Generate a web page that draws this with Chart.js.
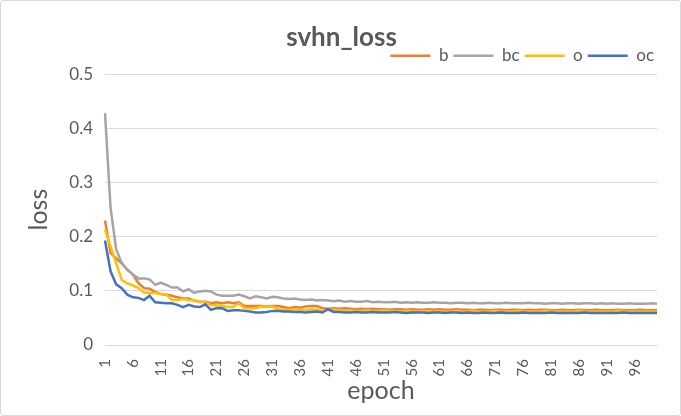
<!DOCTYPE html>
<html>
<head>
<meta charset="utf-8">
<script src="https://cdn.jsdelivr.net/npm/chart.js@4"></script>
<style>
  html, body { margin: 0; padding: 0; background: #fff; }
  #wrap { position: absolute; left: 0; top: 0; width: 679px; height: 414px; border: 1px solid #d9d9d9; border-radius: 3px; }
  canvas { position: absolute; left: -1px; top: -1px; }
</style>
</head>
<body>
<div id="wrap"><canvas id="c" width="681" height="416"></canvas></div>
<script>
const epochs = Array.from({length: 100}, (_, i) => String(i + 1));
const tickEvery = 5;

const seriesNames = ['b', 'bc', 'o', 'oc'];
const seriesColors = ['#ED7D31', '#A5A5A5', '#FFC000', '#4472C4'];

const b = [
  0.230, 0.170, 0.160, 0.151, 0.139, 0.130, 0.114, 0.105, 0.104, 0.098,
  0.094, 0.093, 0.091, 0.088, 0.086, 0.086, 0.082, 0.080, 0.080, 0.077,
  0.079, 0.077, 0.079, 0.077, 0.079, 0.072, 0.072, 0.072, 0.072, 0.071,
  0.072, 0.072, 0.070, 0.068, 0.070, 0.069, 0.071, 0.072, 0.072, 0.068,
  0.067, 0.068, 0.067, 0.068, 0.067, 0.066, 0.067, 0.066, 0.067, 0.066,
  0.066, 0.065, 0.066, 0.066, 0.065, 0.066, 0.065, 0.065, 0.066, 0.065,
  0.066, 0.065, 0.065, 0.066, 0.065, 0.065, 0.064, 0.065, 0.065, 0.064,
  0.065, 0.065, 0.064, 0.065, 0.065, 0.064, 0.065, 0.064, 0.065, 0.065,
  0.064, 0.064, 0.065, 0.064, 0.064, 0.065, 0.064, 0.064, 0.065, 0.064,
  0.064, 0.064, 0.065, 0.064, 0.064, 0.064, 0.065, 0.064, 0.064, 0.064
];
const bc = [
  0.428, 0.253, 0.177, 0.151, 0.139, 0.130, 0.123, 0.123, 0.121, 0.111,
  0.115, 0.111, 0.106, 0.106, 0.099, 0.103, 0.096, 0.099, 0.100, 0.099,
  0.093, 0.091, 0.091, 0.091, 0.093, 0.090, 0.086, 0.090, 0.088, 0.086,
  0.089, 0.088, 0.086, 0.085, 0.086, 0.084, 0.083, 0.084, 0.082, 0.083,
  0.082, 0.081, 0.082, 0.080, 0.081, 0.080, 0.080, 0.081, 0.079, 0.080,
  0.079, 0.079, 0.080, 0.078, 0.079, 0.078, 0.079, 0.078, 0.078, 0.079,
  0.078, 0.078, 0.077, 0.078, 0.078, 0.077, 0.078, 0.077, 0.077, 0.078,
  0.077, 0.077, 0.078, 0.077, 0.077, 0.077, 0.078, 0.077, 0.077, 0.076,
  0.077, 0.077, 0.076, 0.077, 0.077, 0.076, 0.077, 0.077, 0.076, 0.077,
  0.076, 0.077, 0.076, 0.076, 0.077, 0.076, 0.076, 0.076, 0.077, 0.076
];
const o = [
  0.213, 0.182, 0.151, 0.120, 0.114, 0.110, 0.105, 0.097, 0.096, 0.096,
  0.094, 0.093, 0.083, 0.083, 0.085, 0.083, 0.082, 0.079, 0.079, 0.074,
  0.073, 0.072, 0.070, 0.070, 0.077, 0.068, 0.068, 0.068, 0.071, 0.070,
  0.071, 0.066, 0.065, 0.065, 0.066, 0.065, 0.064, 0.066, 0.065, 0.063,
  0.065, 0.065, 0.064, 0.063, 0.064, 0.063, 0.063, 0.064, 0.063, 0.063,
  0.064, 0.063, 0.063, 0.062, 0.063, 0.063, 0.062, 0.063, 0.063, 0.062,
  0.063, 0.062, 0.062, 0.063, 0.062, 0.062, 0.063, 0.062, 0.062, 0.062,
  0.063, 0.062, 0.062, 0.062, 0.063, 0.062, 0.062, 0.062, 0.062, 0.063,
  0.062, 0.062, 0.062, 0.062, 0.062, 0.063, 0.062, 0.062, 0.062, 0.062,
  0.062, 0.062, 0.063, 0.062, 0.062, 0.062, 0.062, 0.062, 0.062, 0.062
];
const oc = [
  0.193, 0.136, 0.112, 0.105, 0.093, 0.088, 0.087, 0.083, 0.091, 0.079,
  0.078, 0.077, 0.077, 0.074, 0.070, 0.074, 0.071, 0.070, 0.075, 0.065,
  0.068, 0.068, 0.063, 0.064, 0.064, 0.063, 0.062, 0.060, 0.060, 0.061,
  0.063, 0.063, 0.062, 0.062, 0.061, 0.061, 0.060, 0.061, 0.062, 0.060,
  0.066, 0.061, 0.061, 0.060, 0.060, 0.061, 0.060, 0.060, 0.061, 0.060,
  0.060, 0.060, 0.061, 0.060, 0.059, 0.060, 0.060, 0.060, 0.059, 0.060,
  0.060, 0.059, 0.060, 0.060, 0.059, 0.060, 0.059, 0.059, 0.060, 0.059,
  0.059, 0.060, 0.059, 0.059, 0.059, 0.060, 0.059, 0.059, 0.059, 0.059,
  0.060, 0.059, 0.059, 0.059, 0.059, 0.059, 0.060, 0.059, 0.059, 0.059,
  0.059, 0.059, 0.059, 0.060, 0.059, 0.059, 0.059, 0.059, 0.059, 0.059
];
const seriesValues = [b, bc, o, oc];

const FONT = "Lato, 'Open Sans', sans-serif";
const TXT = '#595959';

new Chart(document.getElementById('c'), {
  type: 'line',
  data: {
    labels: epochs,
    datasets: seriesNames.map((name, i) => ({
      label: name,
      data: seriesValues[i],
      borderColor: seriesColors[i],
      backgroundColor: seriesColors[i],
      borderWidth: 2.5,
      pointRadius: 0,
      tension: 0,
      fill: false,
      order: seriesNames.length - i
    }))
  },
  options: {
    responsive: false,
    animation: false,
    devicePixelRatio: 1,
    layout: { padding: { left: 24, right: 22, top: 22, bottom: 10 } },
    plugins: {
      title: {
        display: true,
        text: 'svhn_loss',
        color: TXT,
        font: { family: FONT, size: 26, weight: 'bold' },
        padding: { top: 0, bottom: -11 }
      },
      legend: {
        display: true,
        position: 'top',
        align: 'end',
        labels: {
          color: TXT,
          font: { family: FONT, size: 17 },
          usePointStyle: true,
          pointStyle: 'line',
          pointStyleWidth: 40,
          boxHeight: 8,
          padding: 5,
          sort: (a, c) => a.datasetIndex - c.datasetIndex
        }
      },
      tooltip: { enabled: false }
    },
    scales: {
      x: {
        offset: false,
        grid: { display: false },
        border: { display: false },
        ticks: {
          autoSkip: false,
          maxRotation: 90,
          minRotation: 90,
          color: TXT,
          padding: 6,
          font: { family: FONT, size: 15 },
          callback: (v, i) => (i % tickEvery === 0 ? epochs[i] : '')
        },
        title: {
          display: true,
          text: 'epoch',
          color: TXT,
          font: { family: FONT, size: 25 },
          padding: { top: 0, bottom: 0 }
        },
        afterFit: s => { s.height = 416 - 345 - 10; }
      },
      y: {
        min: 0,
        max: 0.5,
        ticks: {
          stepSize: 0.1,
          color: TXT,
          padding: 12,
          font: { family: FONT, size: 17 }
        },
        grid: { color: '#d9d9d9', lineWidth: 1, drawTicks: false },
        border: { display: false },
        title: {
          display: true,
          text: 'loss',
          color: TXT,
          font: { family: FONT, size: 25 },
          padding: { top: 0, bottom: 0 }
        },
        afterFit: s => { s.width = 105 - 24; }
      }
    }
  }
});
</script>
</body>
</html>
